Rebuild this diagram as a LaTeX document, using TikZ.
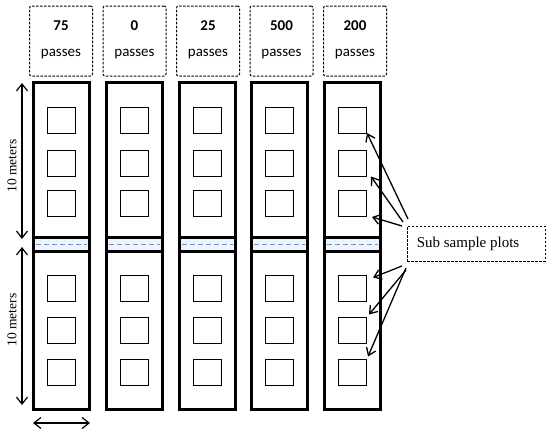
\documentclass[tikz,border=0pt]{standalone}
\usepackage{fontspec}
\setmainfont{Liberation Serif}
\newfontfamily\calfont{Carlito}
\usetikzlibrary{arrows.meta}
\definecolor{bandfill}{HTML}{EEF4FB}
\definecolor{bandline}{HTML}{6F8FC4}
\tikzset{
  passbox/.style={draw, dashed, dash pattern=on 2.5pt off 1.5pt, line width=1pt, rounded corners=2pt,
    minimum width=63pt, minimum height=70pt, inner sep=0pt},
  numtxt/.style={font=\calfont\fontsize{15}{17}\selectfont\bfseries, inner sep=0pt},
  pastxt/.style={font=\calfont\fontsize{15}{17}\selectfont, inner sep=0pt},
  strip/.style={draw, line width=3pt, minimum width=56pt, minimum height=327pt, inner sep=0pt},
  band/.style={draw, line width=3pt, fill=bandfill, minimum width=56pt, minimum height=14pt, inner sep=0pt},
  bandwater/.style={bandline, dashed, dash pattern=on 5pt off 3pt, line width=0.9pt},
  plot/.style={draw, line width=1pt, minimum width=28pt, minimum height=26pt, inner sep=0pt},
  arr/.style={-{Straight Barb[length=7pt,width=10pt]}, line width=1.3pt},
  dimarr/.style={{Straight Barb[length=7pt,width=11pt]}-{Straight Barb[length=7pt,width=11pt]}, line width=1.2pt},
  dimtxt/.style={font=\fontsize{13.5}{15}\selectfont, rotate=90, inner sep=0pt},
  subbox/.style={draw, dashed, dash pattern=on 2.5pt off 1.5pt, line width=1pt,
    minimum width=138pt, minimum height=35pt, inner sep=0pt},
}
\begin{document}
\begin{tikzpicture}[x=1pt,y=-1pt]
\useasboundingbox (0,0) rectangle (550,434);
% top boxes
\foreach \i/\n in {1/75,2/0,3/25,4/500,5/200}{
  \pgfmathsetmacro{\xb}{61+73.5*(\i-1)}
  \node[passbox] (b\i) at (\xb,41) {};
  \node[numtxt] (n\i) at (\xb,26) {\n};
  \node[pastxt] (p\i) at (\xb,54) {passes};
}
% strips
\foreach \i in {1,...,5}{
  \pgfmathsetmacro{\xs}{61.5+72.75*(\i-1)}
  \node[strip] (s\i) at (\xs,245.5) {};
  \node[band] (w\i) at (\xs,244) {};
  \draw[bandwater] ([xshift=4pt]w\i.west) -- ([xshift=-4pt]w\i.east);
  \foreach \j/\y in {1/120.5,2/163,3/203.5,4/288,5/330,6/372}{
    \node[plot] (q\i-\j) at (\xs,\y) {};
  }
}
% sub sample plots
\node[subbox] (sub) at (476,243.5) {};
\node[font=\fontsize{15}{17}\selectfont, inner sep=0pt] (subt) at (468,244) {Sub sample plots};
\coordinate (u1) at (408,219);
\coordinate (u2) at (403,222);
\coordinate (u3) at (402,226);
\coordinate (l1) at (402,266);
\coordinate (l2) at (406,270);
\coordinate (l3) at (406,268);
\draw[arr] (u1) -- ([shift={(0,-1)}]q5-1.south east);
\draw[arr] (u2) -- ([shift={(4,0)}]q5-2.south east);
\draw[arr] (u3) -- ([shift={(5,0)}]q5-3.south east);
\draw[arr] (l1) -- ([shift={(6,3)}]q5-4.north east);
\draw[arr] (l2) -- ([shift={(2,-2)}]q5-5.north east);
\draw[arr] (l3) -- ([shift={(1,-2)}]q5-6.north east);
% dimensions
\coordinate (d1) at (22,83);
\coordinate (d2) at (22,239);
\coordinate (d3) at (22,247);
\coordinate (d4) at (22,405);
\draw[dimarr] (d1) -- (d2);
\draw[dimarr] (d3) -- (d4);
\node[dimtxt] (t1) at (12,166) {10 meters};
\node[dimtxt] (t2) at (12,320) {10 meters};
\coordinate (h1) at (33,423);
\coordinate (h2) at (90,423);
\draw[dimarr] (h1) -- (h2);
\end{tikzpicture}
\end{document}
